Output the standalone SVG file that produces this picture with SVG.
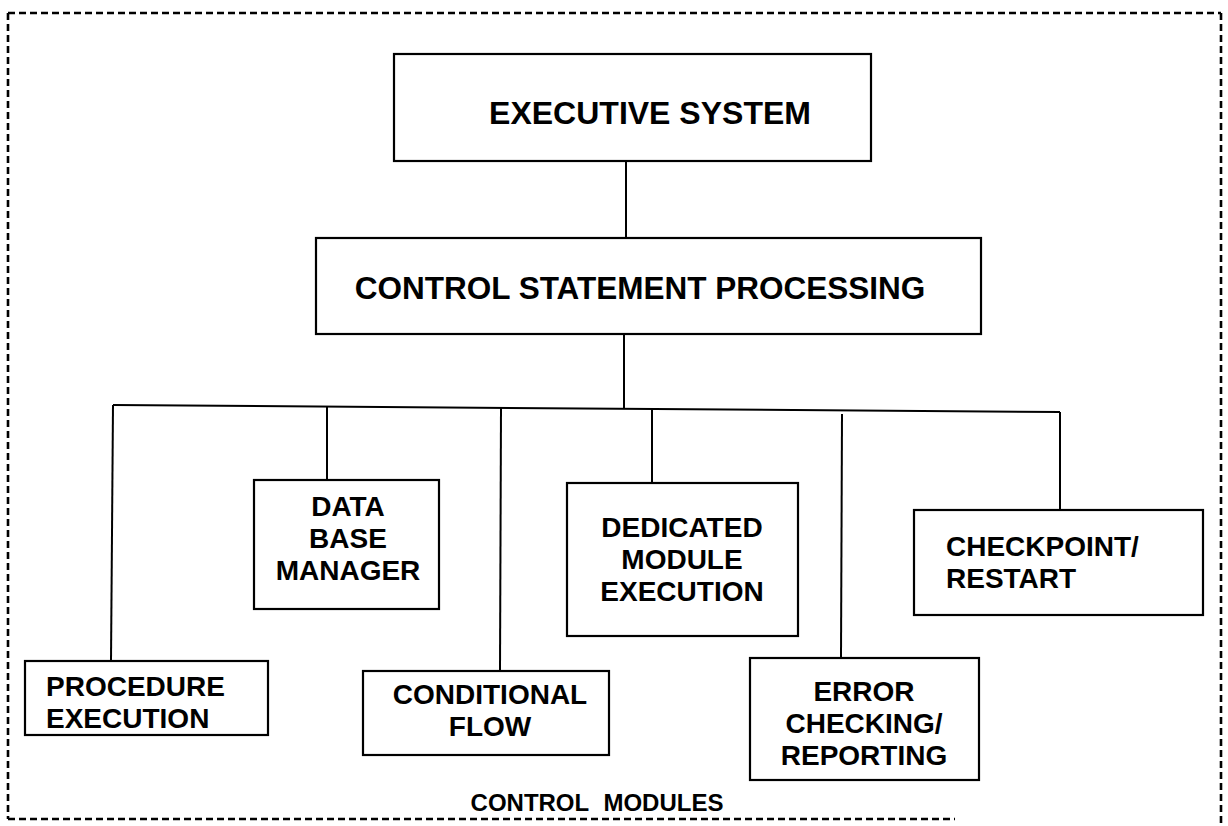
<svg xmlns="http://www.w3.org/2000/svg" width="1228" height="826" viewBox="0 0 1228 826">
<style>
.bg{fill:#fff}
.box{fill:#fff;stroke:#000;stroke-width:2.2}
.wire{stroke:#000;stroke-width:2;fill:none}
.frame{stroke:#000;stroke-width:2.6;fill:none;stroke-dasharray:7 4}
.t{font-family:"Liberation Sans",Arial,Helvetica,sans-serif;font-weight:bold;font-size:28px;fill:#000}
.big{font-size:32px}
.m{text-anchor:middle}
.cap{font-family:"Liberation Sans",Arial,Helvetica,sans-serif;font-weight:bold;font-size:24px;fill:#000;text-anchor:middle;word-spacing:8px}
</style>
<rect class="bg" x="0" y="0" width="1228" height="826"/>
<g id="frame">
<path class="frame" d="M8 13 H1221"/>
<path class="frame" d="M8 13 V819"/>
<path class="frame" d="M8 819 H955"/>
<path class="frame" d="M1221 13 V826"/>
<text class="cap" x="597" y="811">CONTROL MODULES</text>
</g>
<g id="connectors">
<line class="wire" x1="626" y1="161" x2="626" y2="238"/>
<line class="wire" x1="624" y1="334" x2="624" y2="409"/>
<line class="wire" x1="113" y1="405" x2="1060" y2="412"/>
<line class="wire" x1="113" y1="405" x2="111" y2="661"/>
<line class="wire" x1="327" y1="406" x2="327" y2="480"/>
<line class="wire" x1="501" y1="408" x2="500" y2="671"/>
<line class="wire" x1="652" y1="409" x2="652" y2="483"/>
<line class="wire" x1="842" y1="414" x2="841" y2="658"/>
<line class="wire" x1="1060" y1="412" x2="1060" y2="510"/>
</g>
<g id="executive">
<rect class="box" x="394" y="54" width="477" height="107"/>
<text class="t big m" x="650" y="124">EXECUTIVE SYSTEM</text>
</g>
<g id="control">
<rect class="box" x="316" y="238" width="665" height="96"/>
<text class="t big m" x="640" y="299" style="font-size:31.5px">CONTROL STATEMENT PROCESSING</text>
</g>
<g id="procedure">
<rect class="box" x="25" y="661" width="243" height="74"/>
<text class="t" x="46" y="696">PROCEDURE</text>
<text class="t" x="46" y="728">EXECUTION</text>
</g>
<g id="database">
<rect class="box" x="254" y="480" width="185" height="129"/>
<text class="t m" x="348" y="516">DATA</text>
<text class="t m" x="348" y="548">BASE</text>
<text class="t m" x="348" y="580">MANAGER</text>
</g>
<g id="conditional">
<rect class="box" x="363" y="671" width="246" height="84"/>
<text class="t m" x="490" y="704">CONDITIONAL</text>
<text class="t m" x="490" y="736">FLOW</text>
</g>
<g id="dedicated">
<rect class="box" x="567" y="483" width="231" height="153"/>
<text class="t m" x="682" y="537">DEDICATED</text>
<text class="t m" x="682" y="569">MODULE</text>
<text class="t m" x="682" y="601">EXECUTION</text>
</g>
<g id="error">
<rect class="box" x="750" y="658" width="229" height="122"/>
<text class="t m" x="864" y="701">ERROR</text>
<text class="t m" x="864" y="733">CHECKING/</text>
<text class="t m" x="864" y="765">REPORTING</text>
</g>
<g id="checkpoint">
<rect class="box" x="914" y="510" width="289" height="105"/>
<text class="t" x="946" y="556">CHECKPOINT/</text>
<text class="t" x="946" y="588">RESTART</text>
</g>
</svg>
